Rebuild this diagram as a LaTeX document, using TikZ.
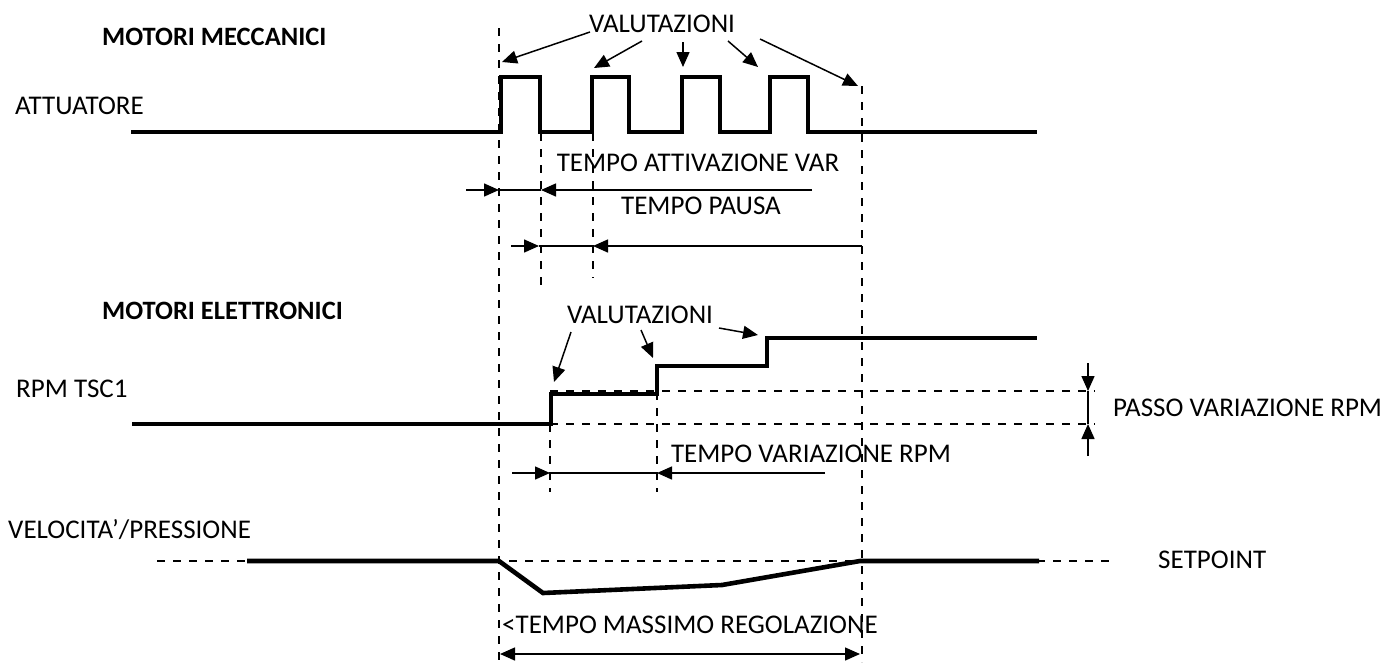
\documentclass[tikz,border=0pt]{standalone}
\usepackage{fontspec}
\setmainfont{Carlito}
\usetikzlibrary{arrows.meta}
\begin{document}
\begin{tikzpicture}[x=1pt,y=-1pt,
  lbl/.style={inner sep=0pt,font=\fontsize{27}{31}\selectfont},
  lblw/.style={lbl,anchor=base west},
  lblc/.style={lbl,anchor=base},
  sig/.style={line width=4.6pt,line join=miter},
  guide/.style={line width=1.7pt,dash pattern=on 8pt off 8pt},
  thin/.style={line width=1.5pt},
  arr/.style={thin,-{Triangle[length=15pt,width=13pt]}}]
\useasboundingbox (0,0) rectangle (1384,662);

% ---- labels
\node[lblw,font=\fontsize{26.5}{31}\selectfont\bfseries] (mm) at (102,45) {MOTORI MECCANICI};
\node[lblw] (att) at (15,114) {ATTUATORE};
\node[lblc] (val1) at (662,32) {VALUTAZIONI};
\node[lblc] (tav) at (698,171) {TEMPO ATTIVAZIONE VAR};
\node[lblc] (tp) at (701,214) {TEMPO PAUSA};
\node[lblw,font=\fontsize{26.5}{31}\selectfont\bfseries] (me) at (102,319) {MOTORI ELETTRONICI};
\node[lblw] (rpm) at (16,397) {RPM TSC1};
\node[lblc] (val2) at (640,323) {VALUTAZIONI};
\node[lblc] (tvr) at (811,462) {TEMPO VARIAZIONE RPM};
\node[lblw] (passo) at (1113,416) {PASSO VARIAZIONE RPM};
\node[lblw] (vel) at (8,538) {VELOCITA’/PRESSIONE};
\node[lblw] (sp) at (1158,568) {SETPOINT};
\node[lblw] (tmr) at (502,633) {<TEMPO MASSIMO REGOLAZIONE};

% ---- guide lines
\coordinate (g1a) at (499,28);  \coordinate (g1b) at (499,662);
\coordinate (g2a) at (862,86);  \coordinate (g2b) at (862,662);
\coordinate (g3a) at (541,133); \coordinate (g3b) at (541,285);
\coordinate (g4a) at (593,133); \coordinate (g4b) at (593,278);
\coordinate (g5a) at (550,424); \coordinate (g5b) at (550,492);
\coordinate (g6a) at (657,392); \coordinate (g6b) at (657,492);
\coordinate (h1a) at (550,391); \coordinate (h1b) at (1095,391);
\coordinate (h2a) at (550,424); \coordinate (h2b) at (1095,424);
\coordinate (spa) at (157,561); \coordinate (spb) at (1110,561);
\foreach \a/\b in {g1a/g1b,g2a/g2b,g3a/g3b,g4a/g4b,g5a/g5b,g6a/g6b,h1a/h1b,h2a/h2b,spa/spb}
  \draw[guide] (\a) -- (\b);

% ---- signals
\draw[sig] (131,132) -- (501,132) -- (501,77) -- (540,77) -- (540,132) -- (592,132)
  -- (592,77) -- (629,77) -- (629,132) -- (682,132) -- (682,77) -- (720,77) -- (720,132)
  -- (770,132) -- (770,77) -- (808,77) -- (808,132) -- (1037,132);
\draw[sig] (132,424) -- (551,424) -- (551,394) -- (657,394) -- (657,366) -- (767,366)
  -- (767,338) -- (1037,338);
\draw[sig] (247,561) -- (499,561) -- (543,593) -- (722,585) -- (860,561) -- (1039,561);

% ---- VALUTAZIONI arrows (top)
\coordinate (a1s) at (590,32);  \coordinate (a1e) at (502,62);
\coordinate (a2s) at (642,41);  \coordinate (a2e) at (594,68);
\coordinate (a3s) at (683,42);  \coordinate (a3e) at (683,67);
\coordinate (a4s) at (728,41);  \coordinate (a4e) at (758,67);
\coordinate (a5s) at (760,39);  \coordinate (a5e) at (858,86);
\foreach \i in {1,...,5} \draw[arr] (a\i s) -- (a\i e);

% ---- VALUTAZIONI arrows (RPM)
\coordinate (b1s) at (571,332); \coordinate (b1e) at (554,382);
\coordinate (b2s) at (641,330); \coordinate (b2e) at (653,358);
\coordinate (b3s) at (719,328); \coordinate (b3e) at (758,335);
\foreach \i in {1,2,3} \draw[arr] (b\i s) -- (b\i e);

% ---- dimension arrows
\coordinate (d1a) at (466,190); \coordinate (d1b) at (499,190);
\coordinate (d1c) at (541,190); \coordinate (d1d) at (812,190);
\draw[arr] (d1a) -- (d1b); \draw[thin] (d1b) -- (d1c); \draw[arr] (d1d) -- (d1c);

\coordinate (d2a) at (511,246); \coordinate (d2b) at (539,246);
\coordinate (d2c) at (593,246); \coordinate (d2d) at (862,246);
\draw[arr] (d2a) -- (d2b); \draw[thin] (d2b) -- (d2c); \draw[arr] (d2d) -- (d2c);

\coordinate (d3a) at (512,473); \coordinate (d3b) at (550,473);
\coordinate (d3c) at (657,473); \coordinate (d3d) at (825,473);
\draw[arr] (d3a) -- (d3b); \draw[thin] (d3b) -- (d3c); \draw[arr] (d3d) -- (d3c);

\coordinate (p1) at (1088,363); \coordinate (p2) at (1088,391);
\coordinate (p3) at (1088,424); \coordinate (p4) at (1088,456);
\draw[arr] (p1) -- (p2); \draw[thin] (p2) -- (p3); \draw[arr] (p4) -- (p3);

\coordinate (m1) at (500,654); \coordinate (m2) at (860,654);
\draw[thin,{Triangle[length=15pt,width=13pt]}-{Triangle[length=15pt,width=13pt]}] (m1) -- (m2);
\end{tikzpicture}
\end{document}
